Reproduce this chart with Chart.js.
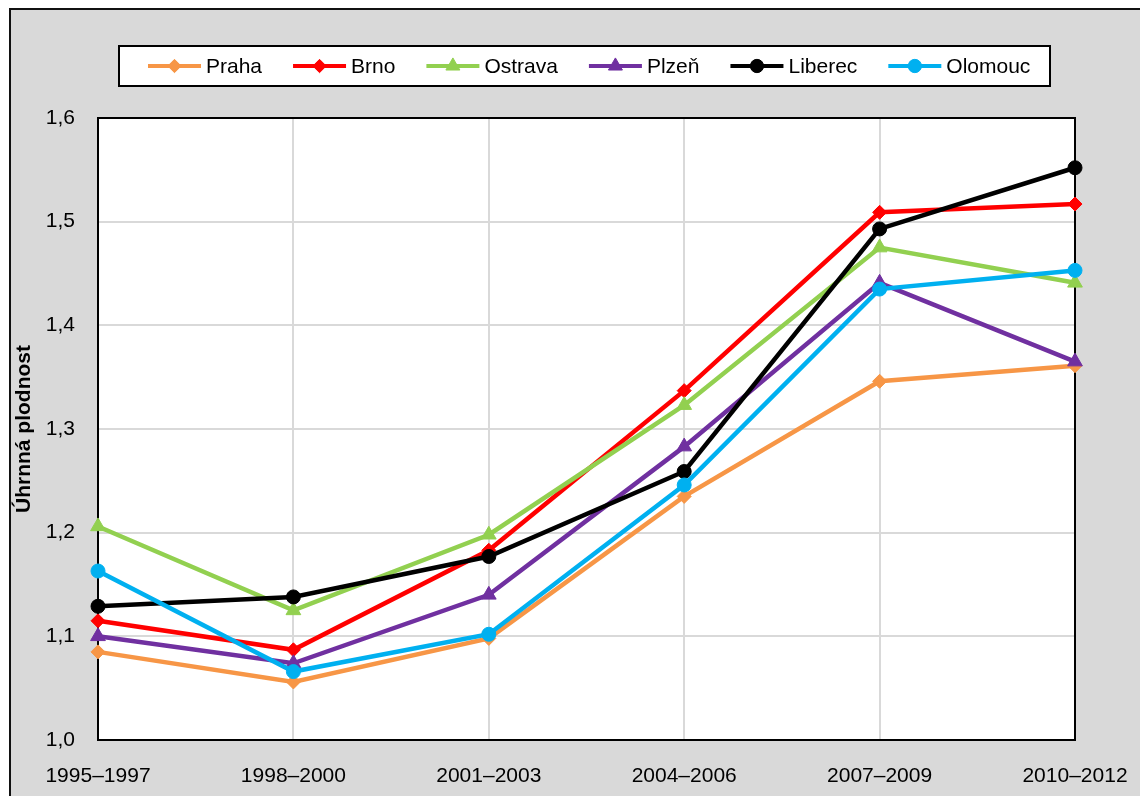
<!DOCTYPE html>
<html>
<head>
<meta charset="utf-8">
<script src="https://cdn.jsdelivr.net/npm/chart.js@4/dist/chart.umd.min.js"></script>
<style>
  html, body { margin: 0; padding: 0; background: #ffffff; width: 1140px; height: 796px; overflow: hidden; position: relative; }
  #frame { position: absolute; left: 9px; top: 8px; width: 1200px; height: 900px; background: #d9d9d9; border: 2px solid #111; box-sizing: border-box; }
  #wrap { position: absolute; left: 0; top: 0; width: 1140px; height: 796px; }
</style>
</head>
<body>
<div id="frame"></div>
<div id="wrap"><canvas id="c" width="1140" height="796"></canvas></div>
<script>
const categories = ['1995–1997', '1998–2000', '2001–2003', '2004–2006', '2007–2009', '2010–2012'];
const seriesNames = ['Praha', 'Brno', 'Ostrava', 'Plzeň', 'Liberec', 'Olomouc'];
const praha   = [1.085, 1.056, 1.098, 1.235, 1.346, 1.361];
const brno    = [1.115, 1.087, 1.183, 1.337, 1.509, 1.517];
const ostrava = [1.206, 1.125, 1.198, 1.323, 1.475, 1.441];
const plzen   = [1.100, 1.074, 1.140, 1.283, 1.441, 1.365];
const liberec = [1.129, 1.138, 1.177, 1.259, 1.493, 1.552];
const olomouc = [1.163, 1.066, 1.102, 1.246, 1.435, 1.453];
const yTicks = [1.0, 1.1, 1.2, 1.3, 1.4, 1.5, 1.6];
const yTitle = 'Úhrnná plodnost';

const seriesValues = [praha, brno, ostrava, plzen, liberec, olomouc];
const colors = ['#F79646', '#FF0000', '#92D050', '#7030A0', '#000000', '#00B0F0'];
const styles = ['rectRot', 'rectRot', 'triangle', 'triangle', 'circle', 'circle'];
const radii = [7, 7, 8.5, 8.5, 7, 7];

const FONT = "'Liberation Sans', Arial, sans-serif";

const datasets = seriesNames.map((n, i) => ({
  label: n,
  data: seriesValues[i],
  borderColor: colors[i],
  backgroundColor: colors[i],
  borderWidth: 4.5,
  pointStyle: styles[i],
  pointRadius: radii[i],
  pointHoverRadius: radii[i],
  pointBorderWidth: 1,
  pointBackgroundColor: colors[i],
  pointBorderColor: colors[i],
  tension: 0,
  order: seriesNames.length - i
}));

function drawMarker(ctx, style, x, y, r, color) {
  ctx.save();
  ctx.fillStyle = color; ctx.strokeStyle = color; ctx.lineWidth = 1;
  ctx.beginPath();
  if (style === 'circle') {
    ctx.arc(x, y, r, 0, Math.PI * 2);
  } else if (style === 'rectRot') {
    ctx.moveTo(x - r, y); ctx.lineTo(x, y - r); ctx.lineTo(x + r, y); ctx.lineTo(x, y + r); ctx.closePath();
  } else {
    const a = Math.PI * 2 / 3;
    ctx.moveTo(x, y - r);
    ctx.lineTo(x + Math.sin(a) * r, y - Math.cos(a) * r);
    ctx.lineTo(x + Math.sin(2 * a) * r, y - Math.cos(2 * a) * r);
    ctx.closePath();
  }
  ctx.fill(); ctx.stroke();
  ctx.restore();
}

const plotBg = {
  id: 'plotBg',
  beforeDraw(chart) {
    const { ctx, chartArea: a } = chart;
    ctx.save();
    ctx.fillStyle = '#ffffff';
    ctx.fillRect(a.left, a.top, a.right - a.left, a.bottom - a.top);
    ctx.restore();
  },
  beforeDatasetsDraw(chart) {
    const { ctx, chartArea: a } = chart;
    ctx.save();
    ctx.strokeStyle = '#000000';
    ctx.lineWidth = 2;
    ctx.strokeRect(a.left, a.top, a.right - a.left, a.bottom - a.top);
    ctx.restore();
  }
};

const customLegend = {
  id: 'customLegend',
  afterDraw(chart) {
    const ctx = chart.ctx;
    const box = { l: 119, t: 46, r: 1050, b: 86 };
    ctx.save();
    ctx.fillStyle = '#ffffff';
    ctx.fillRect(box.l, box.t, box.r - box.l, box.b - box.t);
    ctx.strokeStyle = '#000000';
    ctx.lineWidth = 2;
    ctx.strokeRect(box.l, box.t, box.r - box.l, box.b - box.t);
    ctx.font = '21px ' + FONT;
    ctx.textBaseline = 'middle';
    ctx.textAlign = 'left';
    const cy = (box.t + box.b) / 2;
    const lineLen = 53, gapText = 5, gapItem = 31;
    let x = 148;
    chart.data.datasets.forEach((ds, i) => {
      ctx.strokeStyle = ds.borderColor;
      ctx.lineWidth = 4;
      ctx.beginPath();
      ctx.moveTo(x, cy); ctx.lineTo(x + lineLen, cy);
      ctx.stroke();
      drawMarker(ctx, ds.pointStyle, x + lineLen / 2, cy, ds.pointRadius * 0.95, ds.borderColor);
      ctx.fillStyle = '#000000';
      const tx = x + lineLen + gapText;
      ctx.fillText(ds.label, tx, cy + 1);
      x = tx + ctx.measureText(ds.label).width + gapItem;
    });
    ctx.restore();
  }
};

new Chart(document.getElementById('c'), {
  type: 'line',
  data: { labels: categories, datasets },
  plugins: [plotBg, customLegend],
  options: {
    responsive: false,
    animation: false,
    events: [],
    layout: { padding: { left: 12, right: 65, top: 118, bottom: 0 } },
    plugins: { legend: { display: false }, tooltip: { enabled: false }, title: { display: false } },
    scales: {
      x: {
        offset: false,
        grid: { color: '#d9d9d9', lineWidth: 2, drawTicks: false },
        border: { display: false },
        ticks: { color: '#000000', font: { family: FONT, size: 21 }, padding: 24, maxRotation: 0, autoSkip: false },
        afterFit(s) { s.height = 56; s.paddingLeft = 0; s.paddingRight = 0; }
      },
      y: {
        min: 1.0, max: 1.6,
        grid: { color: '#d9d9d9', lineWidth: 2, drawTicks: false },
        border: { display: false },
        afterBuildTicks(s) { s.ticks = yTicks.map(v => ({ value: v })); },
        ticks: {
          color: '#000000', font: { family: FONT, size: 21 }, padding: 23,
          callback: v => Number(v).toFixed(1).replace('.', ',')
        },
        title: { display: true, text: yTitle, color: '#000000', font: { family: FONT, size: 21, weight: 'bold' }, padding: 0 },
        afterFit(s) { s.width = 86; s.paddingTop = 0; s.paddingBottom = 0; }
      }
    }
  }
});
</script>
</body>
</html>
